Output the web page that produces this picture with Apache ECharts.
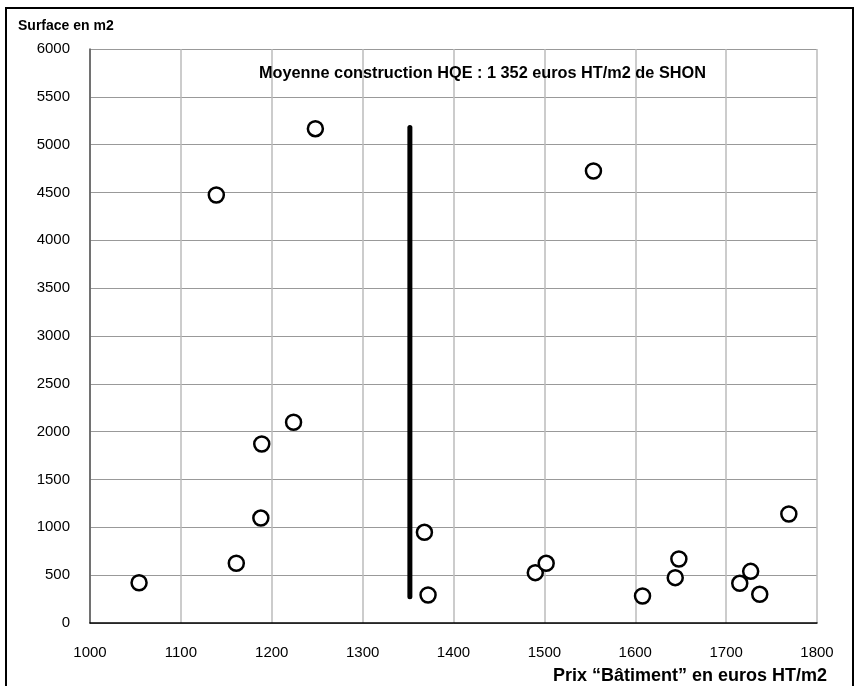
<!DOCTYPE html>
<html>
<head>
<meta charset="utf-8">
<script src="https://cdn.jsdelivr.net/npm/echarts@6/dist/echarts.min.js"></script>
<style>
html, body { margin: 0; padding: 0; background: #fff; }
#chart { width: 856px; height: 686px; }
</style>
</head>
<body>
<div id="chart"></div>
<script>
// prix batiment (euros HT/m2) et surface (m2) des operations
var prix = [1054, 1139, 1248, 1554, 1161, 1189, 1224, 1188, 1368, 1372, 1490, 1502, 1608, 1644, 1648, 1715, 1727, 1737, 1769];
var surface = [421, 4474, 5167, 4725, 625, 1871, 2098, 1097, 948, 293, 526, 624, 282, 474, 669, 415, 540, 300, 1139];

// moyenne construction HQE
var moyennePrix = [1352, 1352];
var moyenneSurface = [275, 5180];

var xTicks = [1000, 1100, 1200, 1300, 1400, 1500, 1600, 1700, 1800];
var yTicks = [0, 500, 1000, 1500, 2000, 2500, 3000, 3500, 4000, 4500, 5000, 5500, 6000];

var points = prix.map(function (p, i) { return [p, surface[i]]; });
var moyenne = moyennePrix.map(function (p, i) { return [p, moyenneSurface[i]]; });

var font = "'Liberation Sans', Arial, Helvetica, sans-serif";

var myChart = echarts.init(document.getElementById('chart'));
var option = {
    backgroundColor: '#fff',
    animation: false,
    grid: {
        left: 90,
        right: 39,
        top: 49,
        bottom: 63
    },
    xAxis: {
        type: 'value',
        min: xTicks[0],
        max: xTicks[xTicks.length - 1],
        interval: 100,
        axisLine: { show: true, onZero: false, lineStyle: { color: '#000', width: 1.5 } },
        axisTick: { show: false },
        axisLabel: {
            color: '#000', fontFamily: font, fontSize: 15, margin: 22,
            formatter: function (v) { return String(v); }
        },
        splitLine: { show: true, lineStyle: { color: '#bbb', width: 1.5 } }
    },
    yAxis: {
        type: 'value',
        min: yTicks[0],
        max: yTicks[yTicks.length - 1],
        interval: 500,
        axisLine: { show: true, onZero: false, lineStyle: { color: '#555', width: 1.5 } },
        axisTick: { show: false },
        axisLabel: {
            color: '#000', fontFamily: font, fontSize: 15, margin: 20,
            formatter: function (v) { return String(v); }
        },
        splitLine: { show: true, lineStyle: { color: '#999', width: 1 } }
    },
    series: [
        {
            name: 'Moyenne',
            type: 'line',
            data: moyenne,
            symbol: 'none',
            lineStyle: { color: '#000', width: 5, cap: 'round' },
            z: 3
        },
        {
            name: 'Operations',
            type: 'scatter',
            data: points,
            symbol: 'circle',
            symbolSize: 15,
            itemStyle: { color: '#fff', borderColor: '#000', borderWidth: 2.5, opacity: 1 },
            z: 4
        }
    ],
    graphic: [
        {
            type: 'rect',
            shape: { x: 6, y: 8, width: 847, height: 700 },
            style: { fill: 'none', stroke: '#000', lineWidth: 2 },
            silent: true
        },
        {
            type: 'text',
            left: 18,
            top: 19,
            style: { text: 'Surface en m2', font: 'bold 14px ' + font, fill: '#000' }
        },
        {
            type: 'text',
            left: 259,
            top: 66,
            z: 10,
            style: { text: 'Moyenne construction HQE : 1 352 euros HT/m2 de SHON', font: 'bold 16.3px ' + font, fill: '#000' }
        },
        {
            type: 'text',
            right: 29,
            top: 667,
            style: { text: 'Prix \u201cB\u00e2timent\u201d en euros HT/m2', font: 'bold 18px ' + font, fill: '#000' }
        }
    ]
};
myChart.setOption(option);
</script>
</body>
</html>
